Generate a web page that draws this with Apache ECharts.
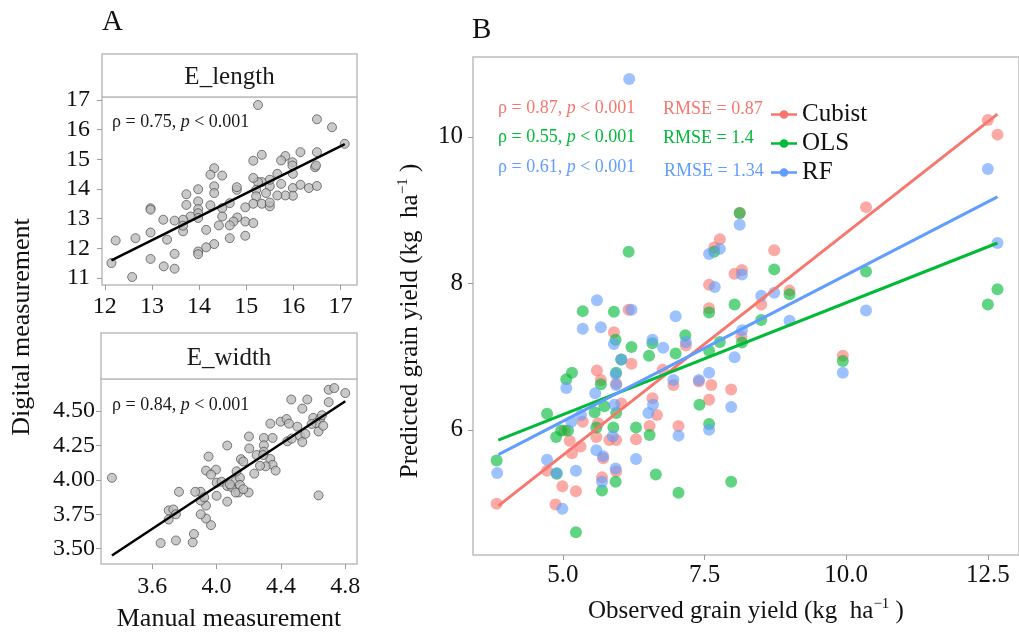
<!DOCTYPE html>
<html><head><meta charset="utf-8">
<script src="https://cdn.jsdelivr.net/npm/echarts@6/dist/echarts.min.js"></script>
<style>html,body{margin:0;padding:0;background:#fff}#c{width:1019px;height:633px}</style>
</head><body><div id="c"></div>
<script>
// ---------- DATA ----------
const lengthPoints = [[15.25,16.83],[16.50,16.35],[16.82,16.08],[17.09,15.52],[16.50,15.24],[16.15,15.24],[15.83,15.11],[15.74,14.96],[15.33,15.15],[15.15,14.95],[15.98,14.90],[15.98,14.79],[16.46,14.73],[16.48,14.79],[15.99,14.51],[15.66,14.51],[15.74,14.17],[15.99,14.03],[16.15,14.14],[16.33,14.03],[16.50,14.10],[15.99,13.77],[15.83,13.78],[15.66,13.78],[15.50,14.09],[15.50,14.31],[15.33,14.23],[15.25,14.23],[15.15,14.37],[15.21,13.97],[15.21,13.75],[15.15,13.50],[15.33,13.50],[15.50,13.41],[14.98,13.38],[14.98,12.90],[15.15,12.85],[14.98,12.42],[14.80,13.97],[14.80,14.06],[14.65,13.52],[14.49,14.45],[14.32,14.70],[14.24,14.48],[14.32,14.09],[14.32,13.86],[14.49,13.35],[14.24,13.45],[14.49,13.07],[14.81,13.04],[14.73,12.90],[14.65,12.77],[14.42,12.77],[14.65,12.34],[14.32,12.14],[14.15,12.03],[13.98,11.89],[13.98,11.80],[13.98,13.99],[13.98,13.58],[13.98,13.32],[13.98,13.18],[13.98,13.02],[14.15,12.62],[13.82,13.07],[13.73,13.82],[13.73,13.46],[13.66,12.96],[13.66,12.57],[13.66,12.76],[13.48,12.93],[13.48,11.81],[13.48,11.31],[13.32,12.29],[13.24,12.96],[13.25,11.39],[12.97,13.35],[12.97,13.30],[12.97,12.53],[12.97,11.64],[12.65,12.34],[12.58,11.03],[12.23,12.26],[12.14,11.50],[15.50,13.54],[15.42,13.86]];
const widthPoints = [[3.349,4.015],[3.652,3.541],[3.747,3.560],[3.851,3.546],[3.859,3.607],[3.965,3.671],[3.934,3.719],[3.901,3.750],[3.934,3.813],[3.901,3.849],[3.901,3.913],[3.867,3.913],[3.766,3.913],[3.702,3.778],[3.731,3.785],[3.747,3.750],[3.702,3.712],[3.934,4.067],[3.996,4.074],[3.950,4.169],[3.965,4.038],[4.000,3.979],[4.000,3.884],[4.066,3.842],[4.031,3.986],[4.066,4.249],[4.066,3.955],[4.093,3.948],[4.118,3.991],[4.135,3.908],[4.145,4.015],[4.151,4.150],[4.166,4.133],[4.203,4.228],[4.201,4.315],[4.199,3.908],[4.234,4.045],[4.249,4.180],[4.294,4.304],[4.294,4.251],[4.294,4.204],[4.348,4.304],[4.334,4.408],[4.334,4.152],[4.348,4.109],[4.367,4.067],[4.305,4.098],[4.270,4.102],[4.398,4.422],[4.435,4.441],[4.450,4.408],[4.440,4.280],[4.502,4.386],[4.518,4.318],[4.533,4.275],[4.552,4.334],[4.464,4.583],[4.564,4.583],[4.533,4.517],[4.601,4.450],[4.643,4.441],[4.618,4.412],[4.655,4.469],[4.634,4.351],[4.634,3.887],[4.697,4.564],[4.697,4.654],[4.732,4.666],[4.800,4.630],[4.124,4.062],[4.083,3.967],[4.145,3.963],[4.118,3.908],[4.166,3.932],[4.290,4.180],[4.467,4.299],[4.591,4.405],[4.663,4.393],[3.923,3.873]];
const lengthFit = [[12.14,11.59],[17.09,15.51]];
const widthFit = [[3.349,3.451],[4.80,4.571]];

const cubistPoints = [[3.83,4.99],[4.87,4.98],[4.99,5.23],[5.23,5.16],[4.72,5.44],[5.12,5.85],[5.03,5.99],[5.16,5.68],[5.31,5.77],[5.35,6.11],[5.62,6.09],[5.59,5.90],[5.71,5.61],[5.69,5.35],[5.82,5.86],[5.94,5.86],[5.94,5.43],[6.03,6.36],[6.29,5.87],[6.53,6.05],[6.66,6.20],[6.58,6.43],[7.04,6.05],[7.58,6.41],[5.67,6.68],[5.94,6.63],[7.58,7.66],[7.58,7.98],[8.03,8.13],[8.16,8.18],[7.77,8.60],[7.67,8.49],[8.12,8.96],[5.90,7.33],[6.16,7.64],[6.21,6.90],[5.60,6.81],[7.17,7.15],[6.95,6.61],[7.40,6.66],[7.62,6.61],[7.97,6.55],[6.76,6.82],[12.50,10.23],[12.67,10.03],[10.35,9.04],[8.73,8.45],[9.00,7.90],[8.50,7.71],[9.94,7.01],[8.15,7.27]];
const olsPoints = [[3.83,5.58],[4.72,6.22],[4.88,5.90],[4.97,5.99],[5.09,5.99],[4.89,5.40],[5.23,4.60],[5.56,6.24],[5.59,6.03],[5.73,6.32],[5.69,5.17],[5.89,6.03],[5.93,5.29],[5.94,6.23],[6.29,6.03],[6.53,5.93],[6.64,5.39],[7.04,5.14],[7.41,6.34],[7.58,6.08],[7.97,5.29],[6.16,8.43],[5.35,7.62],[5.90,7.61],[5.16,6.78],[5.06,6.69],[5.67,6.62],[6.21,7.13],[6.52,7.01],[6.99,7.04],[7.16,7.29],[7.58,7.60],[8.03,7.71],[7.58,7.08],[7.77,7.20],[8.16,7.19],[8.12,8.96],[7.67,8.43],[5.93,7.23],[6.58,7.18],[5.94,6.78],[6.03,6.96],[8.73,8.19],[10.35,8.16],[12.67,7.92],[9.00,7.85],[8.50,7.50],[12.50,7.71],[9.94,6.94]];
const rfPoints = [[3.84,5.41],[4.72,5.59],[4.89,5.41],[4.99,4.92],[5.23,5.44],[5.15,6.11],[5.32,6.20],[5.59,5.72],[5.71,5.64],[5.69,5.29],[5.93,5.47],[5.91,6.34],[5.88,5.91],[6.29,5.60],[6.51,6.23],[6.59,6.34],[7.04,5.92],[7.58,6.00],[7.97,6.31],[8.12,8.80],[7.58,8.40],[7.77,8.47],[7.68,7.95],[8.16,8.12],[5.60,7.77],[5.35,7.38],[5.67,7.40],[6.21,7.64],[5.90,7.17],[6.99,7.55],[6.58,7.23],[6.77,7.12],[7.17,7.20],[8.16,7.36],[8.03,6.99],[7.58,6.78],[7.40,6.68],[6.95,6.68],[5.93,6.76],[6.03,6.96],[5.06,6.57],[5.57,6.50],[5.94,6.61],[12.50,9.56],[12.67,8.55],[8.50,7.83],[8.73,7.87],[9.00,7.49],[10.35,7.63],[9.94,6.78],[6.17,10.79]];
const cubistFit = [[3.86,4.96],[12.67,10.31]];
const olsFit = [[3.86,5.86],[12.67,8.55]];
const rfFit = [[3.86,5.66],[12.67,9.18]];

const lengthTicksX = [12,13,14,15,16,17];
const lengthTicksY = [11,12,13,14,15,16,17];
const widthTicksX = [3.6,4.0,4.4,4.8];
const widthTicksY = [3.50,3.75,4.00,4.25,4.50];
const yieldTicksX = [5.0,7.5,10.0,12.5];
const yieldTicksY = [6,8,10];

const modelNames = ['Cubist','OLS','RF'];
const modelRho = ['0.87','0.55','0.61'];
const modelRmse = ['0.87','1.4','1.34'];

// ---------- STYLE ----------
const F = "'Liberation Serif','DejaVu Serif',serif";
const COLORS = ['#F8766D','#00BA38','#619CFF'];
const GREY = '#BDBDBD';

function vAxis(gi, min, max, ticks, dec, fs, mg, extra) {
  return Object.assign({
    type: 'value', gridIndex: gi, min: min, max: max, scale: true,
    axisLine: {show: false}, splitLine: {show: false},
    axisTick: {show: true, customValues: ticks, length: 5, lineStyle: {color: '#9a9a9a', width: 1}},
    axisLabel: {customValues: ticks, formatter: v => Number(v).toFixed(dec), fontSize: fs, color: '#111', fontFamily: F, margin: mg}
  }, extra || {});
}

const chart = echarts.init(document.getElementById('c'), null, {renderer: 'canvas'});

const series = [
  {type: 'scatter', xAxisIndex: 0, yAxisIndex: 0, data: lengthPoints, symbolSize: 9,
   itemStyle: {color: '#BBBBBB', borderColor: '#3a3a3a', borderWidth: 0.8}, z: 2, silent: true},
  {type: 'line', xAxisIndex: 0, yAxisIndex: 0, data: lengthFit, symbol: 'none',
   lineStyle: {color: '#000', width: 2.5}, z: 3, silent: true},
  {type: 'scatter', xAxisIndex: 1, yAxisIndex: 1, data: widthPoints, symbolSize: 9,
   itemStyle: {color: '#BBBBBB', borderColor: '#3a3a3a', borderWidth: 0.8}, z: 2, silent: true},
  {type: 'line', xAxisIndex: 1, yAxisIndex: 1, data: widthFit, symbol: 'none',
   lineStyle: {color: '#000', width: 2.5}, z: 3, silent: true}
];
const bPts = [cubistPoints, olsPoints, rfPoints];
const bFit = [cubistFit, olsFit, rfFit];
modelNames.forEach((n, i) => {
  series.push({type: 'scatter', name: n, xAxisIndex: 2, yAxisIndex: 2, data: bPts[i], symbolSize: 12,
    itemStyle: {color: COLORS[i], opacity: 0.62}, z: 2, silent: true});
});
modelNames.forEach((n, i) => {
  series.push({type: 'line', name: n, xAxisIndex: 2, yAxisIndex: 2, data: bFit[i], symbol: 'none',
    lineStyle: {color: COLORS[i], width: 3}, itemStyle: {color: COLORS[i]}, z: 4, silent: true});
});

const legendIcon = 'path://M0,5.2 L30,5.2 L30,8.2 L0,8.2 Z M15,1.7 A5,5 0 1 1 14.99,1.7 Z';
const annRich = (c) => ({n: {fontSize: 18, fontFamily: F, fill: c}, i: {fontSize: 18, fontFamily: F, fontStyle: 'italic', fill: c}});

const graphic = [
  {type: 'text', left: 102, top: 8, style: {text: 'A', font: '29px ' + F, fill: '#111'}},
  {type: 'text', left: 472, top: 16, style: {text: 'B', font: '29px ' + F, fill: '#111'}},
  {type: 'rect', shape: {x: 102, y: 54, width: 255, height: 43}, style: {fill: '#fff', stroke: GREY, lineWidth: 1.5}},
  {type: 'text', x: 229.5, y: 77, style: {text: 'E_length', font: '25px ' + F, fill: '#1a1a1a', align: 'center', verticalAlign: 'middle'}},
  {type: 'rect', shape: {x: 101, y: 333, width: 256, height: 46}, style: {fill: '#fff', stroke: GREY, lineWidth: 1.5}},
  {type: 'text', x: 229, y: 358, style: {text: 'E_width', font: '25px ' + F, fill: '#1a1a1a', align: 'center', verticalAlign: 'middle'}},
  {type: 'text', x: 22, y: 327, rotation: Math.PI / 2,
   style: {text: 'Digital measurement', font: '26px ' + F, fill: '#111', align: 'center', verticalAlign: 'middle'}},
  {type: 'text', x: 112, y: 122, style: {text: '{n|ρ = 0.75, }{i|p}{n| < 0.001}', verticalAlign: 'middle', rich: annRich('#1a1a1a')}},
  {type: 'text', x: 112, y: 405, style: {text: '{n|ρ = 0.84, }{i|p}{n| < 0.001}', verticalAlign: 'middle', rich: annRich('#1a1a1a')}},
  {type: 'text', x: 410, y: 321, rotation: Math.PI / 2,
   style: {text: '{t|Predicted grain yield (kg  ha}{s|−1}{t| )}', align: 'center', verticalAlign: 'middle',
     rich: {t: {fontSize: 25, fontFamily: F, fill: '#111', lineHeight: 28}, s: {fontSize: 15, fontFamily: F, fill: '#111', verticalAlign: 'top', lineHeight: 28}}}}
];
const rhoY = [108, 137, 167];
const rmseY = [109, 138, 171];
const rmseX = [663, 663, 664];
modelNames.forEach((n, i) => {
  graphic.push({type: 'text', x: 498, y: rhoY[i], z: 10, style: {text: '{n|ρ = ' + modelRho[i] + ', }{i|p}{n| < 0.001}', verticalAlign: 'middle', rich: annRich(COLORS[i])}});
  graphic.push({type: 'text', x: rmseX[i], y: rmseY[i], z: 10, style: {text: 'RMSE = ' + modelRmse[i], verticalAlign: 'middle',
    font: '18px ' + F, fill: COLORS[i]}});
});

const supRich = {s: {fontSize: 15, fontFamily: F, color: '#111', verticalAlign: 'top', lineHeight: 28}, t: {fontSize: 25, fontFamily: F, color: '#111', lineHeight: 28}};

chart.setOption({
  animation: false,
  backgroundColor: '#fff',
  grid: [
    {left: 102, top: 97, width: 255, height: 188, show: true, borderColor: GREY, borderWidth: 1.5, containLabel: false},
    {left: 101, top: 379, width: 256, height: 189, show: true, borderColor: GREY, borderWidth: 1.5, containLabel: false},
    {left: 473, top: 57, width: 548.3, height: 498, show: true, borderColor: GREY, borderWidth: 1.5, containLabel: false}
  ],
  xAxis: [
    vAxis(0, 11.94, 17.35, lengthTicksX, 0, 24, 10),
    vAxis(1, 3.281, 4.873, widthTicksX, 1, 24, 11, {name: 'Manual measurement', nameLocation: 'middle', nameGap: 42,
      nameTextStyle: {fontSize: 26, fontFamily: F, color: '#111'}}),
    vAxis(2, 3.413, 13.05, yieldTicksX, 1, 25, 8, {name: '{t|Observed grain yield (kg  ha}{s|−1}{t| )}', nameLocation: 'middle', nameGap: 42,
      nameTextStyle: {fontSize: 25, fontFamily: F, color: '#111', rich: supRich}})
  ],
  yAxis: [
    vAxis(0, 10.76, 17.1, lengthTicksY, 0, 24, 12),
    vAxis(1, 3.389, 4.732, widthTicksY, 2, 24, 6),
    vAxis(2, 4.29, 11.09, yieldTicksY, 0, 25, 10)
  ],
  legend: {
    orient: 'vertical', left: 766, top: 97, itemWidth: 26, itemHeight: 12, itemGap: 4,
    textStyle: {fontSize: 25, fontFamily: F, color: '#111', padding: [0, 0, 0, 0], lineHeight: 25},
    data: modelNames.map((n, i) => ({name: n, icon: legendIcon, itemStyle: {color: COLORS[i], opacity: 1}})),
    selectedMode: false
  },
  graphic: graphic,
  series: series
});
</script>
</body></html>
